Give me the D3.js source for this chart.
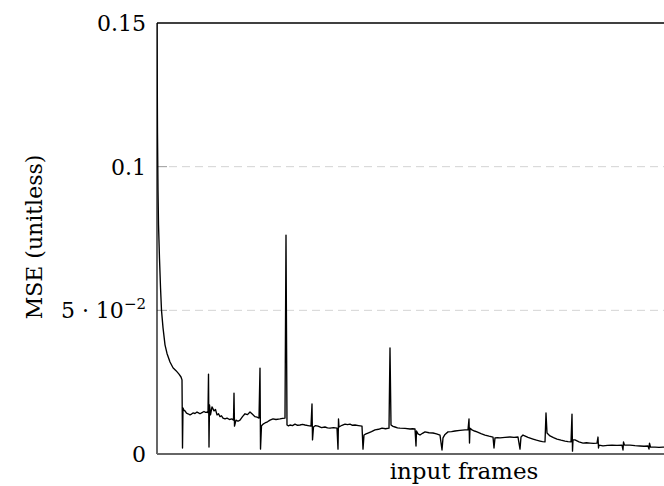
<!DOCTYPE html>
<html>
<head>
<meta charset="utf-8">
<script src="https://cdn.jsdelivr.net/npm/d3@7"></script>
<style>
  body { margin: 0; background: #fff; }
  svg text { font-family: "DejaVu Serif", serif; fill: #000; }
</style>
</head>
<body>
<div id="chart"></div>
<script>
// frame index of each sample
var frames = [0, 1, 2, 3, 5, 7, 9, 12, 16, 20, 26, 32, 38, 44, 48, 50,
  51, 52, 54, 56, 59, 62, 66, 69, 72, 76, 80, 83, 86, 90, 94, 97, 100, 102,
  103, 104, 105, 107, 110, 114, 117, 120, 123, 126, 129, 132, 136, 140, 145, 150, 153,
  154, 155, 158, 162, 166, 171, 176, 181, 186, 191, 196, 200, 204,
  206, 207, 209, 213, 216, 221, 226, 232, 238, 246, 251, 256,
  258, 260, 263, 266, 271, 276, 281, 286, 291, 296, 302, 308,
  310, 311, 313, 317, 322, 329, 336, 341, 346, 353, 360,
  362, 363, 364, 370, 376, 381, 386, 391, 396, 403, 410,
  412, 414, 418, 422, 429, 436, 443, 450, 457, 464,
  466, 468, 472, 476, 481, 486, 496, 506, 511, 516,
  518, 519, 522, 526, 531, 536, 544, 552, 559, 566,
  570, 572, 576, 582, 589, 596, 606, 616, 622,
  624, 625, 626, 630, 635, 640, 648, 656, 664, 672,
  674, 676, 681, 686, 696, 706, 714, 722,
  726, 728, 732, 742, 752, 759, 766, 771, 776,
  778, 780, 786, 793, 800, 808, 816, 822, 828,
  830, 831, 832, 836, 844, 852, 859, 866, 873, 880,
  882, 883, 884, 892, 901, 910, 920, 930,
  932, 933, 935, 946, 956, 966, 974, 982,
  984, 985, 987, 996, 1004, 1012, 1030];

// mean squared error per sample
var mse = [0.150, 0.112, 0.092, 0.080, 0.068, 0.058, 0.050, 0.044, 0.038, 0.035, 0.032, 0.030, 0.029, 0.0278, 0.0268, 0.0258,
  0.0021, 0.0160, 0.0152, 0.0150, 0.0142, 0.0140, 0.0136, 0.0139, 0.0143, 0.0141, 0.0146, 0.0143, 0.0140, 0.0144, 0.0148, 0.0145, 0.0146, 0.0144,
  0.0278, 0.0024, 0.0171, 0.0136, 0.0164, 0.0150, 0.0155, 0.0136, 0.0140, 0.0130, 0.0133, 0.0125, 0.0122, 0.0125, 0.0120, 0.0122, 0.0118,
  0.0212, 0.0097, 0.0118, 0.0114, 0.0118, 0.0130, 0.0140, 0.0137, 0.0146, 0.0138, 0.0130, 0.0128, 0.0125,
  0.0299, 0.0017, 0.0098, 0.0105, 0.0108, 0.0112, 0.0118, 0.0122, 0.0120, 0.0122, 0.0124, 0.0125,
  0.0762, 0.0101, 0.0098, 0.0101, 0.0099, 0.0104, 0.0100, 0.0101, 0.0103, 0.0101, 0.0099, 0.0097,
  0.0174, 0.0049, 0.0094, 0.0099, 0.0097, 0.0092, 0.0094, 0.0091, 0.0090, 0.0092, 0.0090,
  0.0017, 0.0122, 0.0094, 0.0100, 0.0104, 0.0102, 0.0104, 0.0100, 0.0101, 0.0099, 0.0097,
  0.0017, 0.0066, 0.0070, 0.0073, 0.0078, 0.0084, 0.0086, 0.0090, 0.0088, 0.0090,
  0.0369, 0.0101, 0.0096, 0.0094, 0.0091, 0.0090, 0.0089, 0.0087, 0.0088, 0.0087,
  0.0028, 0.0080, 0.0070, 0.0066, 0.0072, 0.0077, 0.0074, 0.0073, 0.0070, 0.0066,
  0.0014, 0.0056, 0.0068, 0.0077, 0.0078, 0.0080, 0.0082, 0.0084, 0.0084,
  0.0122, 0.0038, 0.0090, 0.0084, 0.0080, 0.0077, 0.0071, 0.0066, 0.0062, 0.0059,
  0.0021, 0.0056, 0.0057, 0.0056, 0.0058, 0.0059, 0.0058, 0.0059,
  0.0017, 0.0059, 0.0066, 0.0058, 0.0052, 0.0048, 0.0045, 0.0043, 0.0042,
  0.0143, 0.0073, 0.0063, 0.0057, 0.0052, 0.0048, 0.0045, 0.0043, 0.0042,
  0.0139, 0.0010, 0.0049, 0.0049, 0.0042, 0.0038, 0.0039, 0.0038, 0.0037, 0.0038,
  0.0059, 0.0021, 0.0031, 0.0028, 0.0030, 0.0031, 0.0030, 0.0031,
  0.0014, 0.0042, 0.0031, 0.0031, 0.0029, 0.0028, 0.0027, 0.0028,
  0.0017, 0.0038, 0.0024, 0.0024, 0.0023, 0.0024, 0.0022];

var yTicks = [0, 0.05, 0.1, 0.15];
var gridTicks = [0.05, 0.1];

var data = frames.map(function (f, i) { return { frame: f, mse: mse[i] }; });

var W = 664, H = 486;
var margin = { top: 23, left: 157, bottom: 32 };
var plotRight = 690; // plot continues past the visible window
var width = plotRight - margin.left,
    height = H - margin.top - margin.bottom;

var svg = d3.select("#chart").append("svg")
    .attr("width", W)
    .attr("height", H);

var g = svg.append("g")
    .attr("transform", "translate(" + margin.left + "," + margin.top + ")");

var x = d3.scaleLinear()
    .domain([0, 1066])
    .range([0, width]);

var y = d3.scaleLinear()
    .domain([0, 0.15])
    .range([height, 0]);

// dashed grid
g.selectAll(".grid")
    .data(gridTicks)
    .enter().append("line")
    .attr("class", "grid")
    .attr("x1", 12).attr("x2", width)
    .attr("y1", function (d) { return y(d); })
    .attr("y2", function (d) { return y(d); })
    .attr("stroke", "#d4d4d4")
    .attr("stroke-width", 1)
    .attr("stroke-dasharray", "8,5");

// small inner ticks
g.selectAll(".tick-mark")
    .data(yTicks.slice(0, 3))
    .enter().append("line")
    .attr("x1", 0).attr("x2", 10)
    .attr("y1", function (d) { return y(d); })
    .attr("y2", function (d) { return y(d); })
    .attr("stroke", "#999")
    .attr("stroke-width", 1);

g.append("defs").append("clipPath").attr("id", "clip")
  .append("rect").attr("x", 0).attr("y", 0).attr("width", width).attr("height", height);

var line = d3.line()
    .x(function (d) { return x(d.frame); })
    .y(function (d) { return y(d.mse); });

g.append("path")
    .datum(data)
    .attr("clip-path", "url(#clip)")
    .attr("fill", "none")
    .attr("stroke", "#000")
    .attr("stroke-width", 1.35)
    .attr("stroke-linejoin", "round")
    .attr("d", line);

// frame: left and top black, bottom grey
g.append("line").attr("x1", 0).attr("x2", 0).attr("y1", 0).attr("y2", height)
    .attr("stroke", "#000").attr("stroke-width", 1.2);
g.append("line").attr("x1", 0).attr("x2", width).attr("y1", 0).attr("y2", 0)
    .attr("stroke", "#000").attr("stroke-width", 1.4);
g.append("line").attr("x1", 0).attr("x2", width).attr("y1", height).attr("y2", height)
    .attr("stroke", "#666").attr("stroke-width", 2);

// y tick labels
var labels = g.selectAll(".ylab")
    .data(yTicks)
    .enter().append("text")
    .attr("class", "ylab")
    .attr("x", -11)
    .attr("y", function (d) { return y(d) + 8; })
    .attr("text-anchor", "end")
    .style("font-size", "22px");

labels.each(function (d) {
  var t = d3.select(this);
  if (d === 0.05) {
    t.append("tspan").text("5 \u00B7 10");
    t.append("tspan").attr("dy", -9).style("font-size", "15px").text("\u22122");
  } else {
    t.text(d === 0 ? "0" : String(d));
  }
});

// axis titles
svg.append("text")
    .attr("x", 464)
    .attr("y", 479)
    .attr("text-anchor", "middle")
    .style("font-size", "23px")
    .text("input frames");

svg.append("text")
    .attr("transform", "translate(42,237) rotate(-90)")
    .attr("text-anchor", "middle")
    .style("font-size", "22px")
    .text("MSE (unitless)");
</script>
</body>
</html>
